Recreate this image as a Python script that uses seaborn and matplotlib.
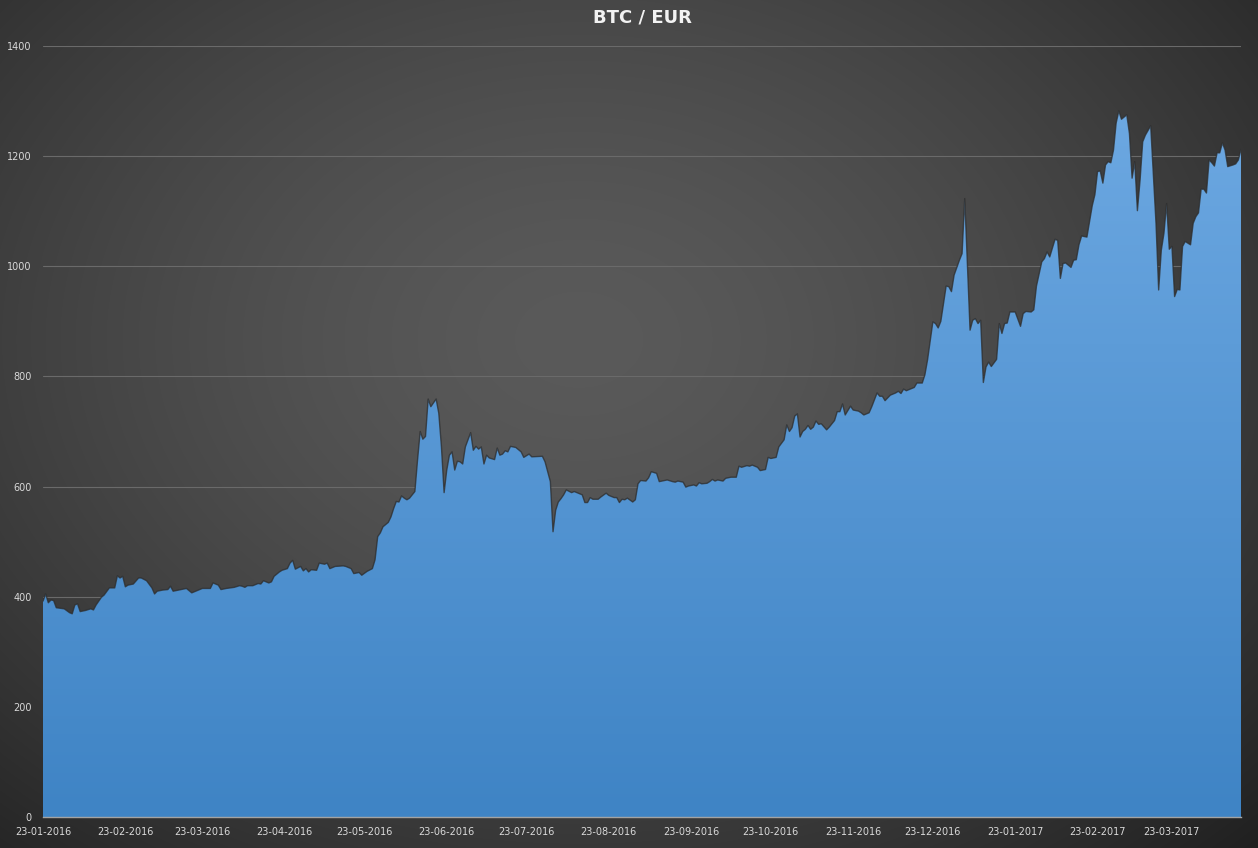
"""
BTC / EUR daily close, Jan 2016 - Apr 2017, drawn as an Excel-style
area chart on a dark radial background.
"""

import matplotlib

matplotlib.use("Agg")
import matplotlib.dates as mdates
import matplotlib.pyplot as plt
import numpy as np
import pandas as pd
import seaborn as sns
from matplotlib.colors import LinearSegmentedColormap

TITLE = "BTC / EUR"

dates = [
    "2016-01-23", "2016-01-24", "2016-01-25", "2016-01-26", "2016-01-27", "2016-01-28", "2016-01-31",
    "2016-02-02", "2016-02-03", "2016-02-04", "2016-02-05", "2016-02-06", "2016-02-08", "2016-02-10",
    "2016-02-11", "2016-02-12", "2016-02-14", "2016-02-15", "2016-02-17", "2016-02-19", "2016-02-20",
    "2016-02-21", "2016-02-22", "2016-02-23", "2016-02-24", "2016-02-26", "2016-02-28", "2016-02-29",
    "2016-03-02", "2016-03-04", "2016-03-05", "2016-03-06", "2016-03-08", "2016-03-10", "2016-03-11",
    "2016-03-12", "2016-03-15", "2016-03-17", "2016-03-19", "2016-03-21", "2016-03-23", "2016-03-26",
    "2016-03-27", "2016-03-29", "2016-03-30",
    "2016-04-01", "2016-04-04", "2016-04-06", "2016-04-07", "2016-04-08", "2016-04-09", "2016-04-11",
    "2016-04-13", "2016-04-14", "2016-04-15", "2016-04-17", "2016-04-18", "2016-04-19", "2016-04-21",
    "2016-04-22", "2016-04-24", "2016-04-25", "2016-04-26", "2016-04-27", "2016-04-29", "2016-04-30",
    "2016-05-01", "2016-05-02", "2016-05-03", "2016-05-05", "2016-05-06", "2016-05-08", "2016-05-09",
    "2016-05-10", "2016-05-12", "2016-05-15", "2016-05-16", "2016-05-18", "2016-05-19", "2016-05-21",
    "2016-05-22", "2016-05-24", "2016-05-26", "2016-05-27", "2016-05-28", "2016-05-29", "2016-05-30",
    "2016-06-01", "2016-06-02", "2016-06-03", "2016-06-04", "2016-06-05", "2016-06-06", "2016-06-07",
    "2016-06-08", "2016-06-09", "2016-06-11", "2016-06-12", "2016-06-13", "2016-06-14", "2016-06-15",
    "2016-06-16", "2016-06-17", "2016-06-18", "2016-06-19", "2016-06-20", "2016-06-21", "2016-06-22",
    "2016-06-23", "2016-06-24", "2016-06-25", "2016-06-26", "2016-06-27", "2016-06-28", "2016-06-29",
    "2016-06-30",
    "2016-07-02", "2016-07-03", "2016-07-04", "2016-07-05", "2016-07-06", "2016-07-07", "2016-07-08",
    "2016-07-09", "2016-07-11", "2016-07-12", "2016-07-13", "2016-07-14", "2016-07-15", "2016-07-16",
    "2016-07-17", "2016-07-19", "2016-07-21", "2016-07-22", "2016-07-24", "2016-07-25", "2016-07-29",
    "2016-07-30",
    "2016-08-01", "2016-08-02", "2016-08-03", "2016-08-04", "2016-08-05", "2016-08-06", "2016-08-07",
    "2016-08-09", "2016-08-10", "2016-08-12", "2016-08-13", "2016-08-14", "2016-08-15", "2016-08-16",
    "2016-08-17", "2016-08-19", "2016-08-20", "2016-08-22", "2016-08-23", "2016-08-25", "2016-08-26",
    "2016-08-27", "2016-08-28", "2016-08-29", "2016-08-30",
    "2016-09-01", "2016-09-02", "2016-09-03", "2016-09-04", "2016-09-06", "2016-09-07", "2016-09-08",
    "2016-09-10", "2016-09-11", "2016-09-12", "2016-09-14", "2016-09-16", "2016-09-17", "2016-09-18",
    "2016-09-20", "2016-09-21", "2016-09-22", "2016-09-24", "2016-09-25", "2016-09-26", "2016-09-27",
    "2016-09-29", "2016-09-30",
    "2016-10-01", "2016-10-02", "2016-10-03", "2016-10-05", "2016-10-06", "2016-10-08", "2016-10-10",
    "2016-10-11", "2016-10-12", "2016-10-14", "2016-10-15", "2016-10-16", "2016-10-18", "2016-10-19",
    "2016-10-21", "2016-10-22", "2016-10-23", "2016-10-25", "2016-10-26", "2016-10-28", "2016-10-29",
    "2016-10-30", "2016-10-31",
    "2016-11-01", "2016-11-02", "2016-11-03", "2016-11-04", "2016-11-05", "2016-11-06", "2016-11-07",
    "2016-11-08", "2016-11-09", "2016-11-10", "2016-11-11", "2016-11-13", "2016-11-14", "2016-11-16",
    "2016-11-17", "2016-11-18", "2016-11-19", "2016-11-20", "2016-11-22", "2016-11-23", "2016-11-25",
    "2016-11-26", "2016-11-27", "2016-11-29", "2016-11-30",
    "2016-12-02", "2016-12-03", "2016-12-04", "2016-12-05", "2016-12-07", "2016-12-09", "2016-12-10",
    "2016-12-11", "2016-12-12", "2016-12-13", "2016-12-14", "2016-12-16", "2016-12-17", "2016-12-19",
    "2016-12-20", "2016-12-21", "2016-12-23", "2016-12-24", "2016-12-25", "2016-12-26", "2016-12-28",
    "2016-12-29", "2016-12-30", "2016-12-31",
    "2017-01-02", "2017-01-03", "2017-01-04", "2017-01-06", "2017-01-07", "2017-01-08", "2017-01-09",
    "2017-01-10", "2017-01-11", "2017-01-12", "2017-01-13", "2017-01-14", "2017-01-16", "2017-01-17",
    "2017-01-18", "2017-01-19", "2017-01-20", "2017-01-21", "2017-01-23", "2017-01-25", "2017-01-26",
    "2017-01-27", "2017-01-29", "2017-01-30", "2017-01-31",
    "2017-02-02", "2017-02-03", "2017-02-04", "2017-02-05", "2017-02-07", "2017-02-08", "2017-02-09",
    "2017-02-10", "2017-02-11", "2017-02-13", "2017-02-14", "2017-02-15", "2017-02-16", "2017-02-17",
    "2017-02-19", "2017-02-20", "2017-02-21", "2017-02-22", "2017-02-23", "2017-02-24", "2017-02-25",
    "2017-02-26", "2017-02-27", "2017-02-28",
    "2017-03-01", "2017-03-02", "2017-03-03", "2017-03-04", "2017-03-06", "2017-03-07", "2017-03-08",
    "2017-03-09", "2017-03-10", "2017-03-11", "2017-03-12", "2017-03-13", "2017-03-15", "2017-03-17",
    "2017-03-18", "2017-03-19", "2017-03-20", "2017-03-21", "2017-03-22", "2017-03-23", "2017-03-24",
    "2017-03-25", "2017-03-26", "2017-03-27", "2017-03-28", "2017-03-30", "2017-03-31",
    "2017-04-01", "2017-04-02", "2017-04-03", "2017-04-04", "2017-04-05", "2017-04-06", "2017-04-07",
    "2017-04-08", "2017-04-09", "2017-04-10", "2017-04-11", "2017-04-12", "2017-04-13", "2017-04-15",
    "2017-04-16", "2017-04-17", "2017-04-18",
]

prices = [
    392, 405, 389, 394, 393, 380, 378,
    371, 369, 385, 387, 373, 375, 378,
    376, 385, 399, 403, 416, 416, 438,
    434, 437, 418, 421, 423, 434, 434,
    429, 416, 405, 410, 412, 413, 419,
    410, 413, 415, 407, 411, 415, 415,
    425, 421, 413,
    415, 417, 420, 419, 417, 420, 420,
    424, 423, 429, 425, 427, 437, 445,
    448, 451, 461, 466, 450, 455, 447,
    451, 445, 449, 448, 461, 459, 461,
    451, 455, 456, 455, 451, 442, 444,
    439, 446, 451, 467, 509, 516, 527,
    535, 545, 560, 573, 572, 583, 579,
    576, 579, 591, 648, 700, 686, 691,
    759, 745, 752, 759, 733, 672, 589,
    630, 657, 663, 630, 646, 645, 641,
    672,
    698, 666, 673, 668, 672, 641, 657,
    652, 649, 670, 657, 659, 665, 663,
    673, 671, 663, 653, 659, 654, 655,
    645,
    609, 518, 557, 572, 578, 585, 594,
    589, 591, 587, 585, 571, 571, 580,
    577, 577, 581, 588, 584, 580, 580,
    571, 577, 576, 579,
    572, 576, 605, 611, 610, 616, 627,
    624, 609, 610, 612, 609, 608, 610,
    608, 599, 601, 603, 601, 607, 605,
    606, 609,
    613, 610, 612, 610, 615, 617, 617,
    637, 635, 638, 637, 639, 635, 629,
    631, 653, 651, 653, 672, 685, 712,
    700, 707,
    728, 732, 690, 700, 704, 711, 704,
    708, 719, 713, 714, 703, 708, 720,
    736, 736, 750, 730, 746, 739, 737,
    734, 730, 734, 745,
    770, 764, 764, 756, 766, 770, 773,
    769, 777, 774, 776, 780, 788, 788,
    803, 830, 899, 896, 888, 900, 964,
    963, 954, 984,
    1011, 1023, 1123, 884, 902, 905, 896,
    902, 789, 817, 826, 818, 831, 896,
    878, 896, 897, 917, 917, 891, 914,
    918, 917, 921, 964,
    1008, 1014, 1026, 1017, 1049, 1047, 978,
    1005, 1006, 998, 1011, 1012, 1039, 1055,
    1053, 1081, 1110, 1130, 1172, 1173, 1151,
    1184, 1190, 1188,
    1211, 1260, 1282, 1267, 1275, 1241, 1160,
    1190, 1101, 1156, 1226, 1238, 1255, 1078,
    957, 1029, 1060, 1114, 1031, 1036, 945,
    958, 957, 1036, 1045, 1039, 1078,
    1090, 1097, 1140, 1140, 1133, 1193, 1188,
    1182, 1206, 1206, 1224, 1211, 1181, 1184,
    1186, 1193, 1212,
]

y_ticks = [0, 200, 400, 600, 800, 1000, 1200, 1400]

W, H = 1258, 848
TEXT = "#d9d9d9"
AXIS = "#a3a3a3"


def radial_background(fig):
    """Dark grey radial gradient behind everything (Excel 'dark' chart style)."""
    bg = fig.add_axes([0, 0, 1, 1], zorder=0)
    yy, xx = np.mgrid[0:H, 0:W]
    r = np.hypot((xx - W * 0.46) / (W * 0.54), (yy - H * 0.40) / (H * 0.60)) / np.sqrt(2)
    level = np.clip((90 - 58 * np.clip(r, 0, 1) ** 1.5) / 255, 0, 1)
    rgb = np.dstack([level, level, level])
    bg.imshow(rgb, aspect="auto", interpolation="bilinear")
    bg.axis("off")


def main():
    sns.set_style("dark")
    df = pd.DataFrame({"date": pd.to_datetime(dates), "price": prices})

    fig = plt.figure(figsize=(W / 100, H / 100), dpi=100)
    radial_background(fig)

    ax = fig.add_axes([43 / W, 31 / H, 1198 / W, 771 / H], zorder=1)
    ax.patch.set_alpha(0)

    # area fill with a vertical blue gradient clipped to the price polygon
    poly = ax.fill_between(df["date"], df["price"], 0, facecolor="none", edgecolor="none")
    xnum = mdates.date2num(df["date"])
    grad = np.linspace(1, 0, 256).reshape(-1, 1)
    cmap = LinearSegmentedColormap.from_list("btc_fill", ["#3f84c5", "#70abe4"])
    im = ax.imshow(grad, cmap=cmap, extent=[xnum[0], xnum[-1], 0, 1400],
                   aspect="auto", zorder=2, interpolation="bilinear")
    im.set_clip_path(poly.get_paths()[0], transform=ax.transData)

    # thin dark edge along the top of the area
    sns.lineplot(data=df, x="date", y="price", ax=ax, color="#2c2c2c",
                 linewidth=1.0, alpha=0.75, zorder=3)

    ax.set_xlim(xnum[0], xnum[-1])
    ax.set_ylim(0, 1400)
    ax.set_yticks(y_ticks)
    ax.set_xlabel("")
    ax.set_ylabel("")

    ax.xaxis.set_major_locator(mdates.MonthLocator(bymonthday=23))
    ax.xaxis.set_major_formatter(mdates.DateFormatter("%d-%m-%Y"))

    ax.set_axisbelow(True)
    ax.yaxis.grid(True, color="#6a6a6a", linewidth=0.8)
    ax.xaxis.grid(False)

    for side in ["top", "right", "left"]:
        ax.spines[side].set_visible(False)
    ax.spines["bottom"].set_color(AXIS)
    ax.spines["bottom"].set_linewidth(1.0)
    ax.spines["bottom"].set_zorder(4)

    ax.tick_params(axis="y", length=0, pad=8, labelsize=7, labelcolor=TEXT)
    ax.tick_params(axis="x", length=4, width=1, color=AXIS, pad=3,
                   labelsize=7, labelcolor=TEXT, direction="out")

    fig.text(642 / W, 1 - 17 / H, TITLE, ha="center", va="center",
             fontsize=13, fontweight="bold", color="#f2f2f2")

    fig.savefig("out.png", dpi=100)
    plt.close(fig)


if __name__ == "__main__":
    main()
